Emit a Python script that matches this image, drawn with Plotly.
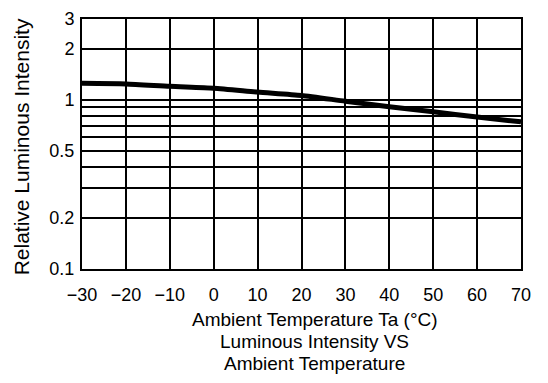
import plotly.graph_objects as go

# Data
temperature = [-30, -20, -10, 0, 10, 20, 30, 40, 50, 60, 70]
relative_intensity = [1.25, 1.24, 1.20, 1.17, 1.11, 1.06, 0.98, 0.91, 0.85, 0.79, 0.74]

x_ticks = [-30, -20, -10, 0, 10, 20, 30, 40, 50, 60, 70]
y_grid_values = [0.1, 0.2, 0.3, 0.4, 0.5, 0.6, 0.7, 0.8, 0.9, 1, 2, 3]
y_tick_labels = ["0.1", "0.2", "", "", "0.5", "", "", "", "", "1", "2", "3"]
x_title_lines = ["Ambient Temperature Ta (°C)", "Luminous Intensity VS", "Ambient Temperature"]
y_title = "Relative Luminous Intensity"

FONT = "Liberation Sans, Arial, sans-serif"

fig = go.Figure()
fig.add_trace(go.Scatter(
    x=temperature, y=relative_intensity, mode="lines",
    line=dict(color="black", width=5, shape="spline", smoothing=0.6),
    showlegend=False, hoverinfo="skip",
))

fig.update_layout(
    width=548, height=383,
    margin=dict(l=82, r=27, t=19, b=114),
    paper_bgcolor="white", plot_bgcolor="white",
    font=dict(family=FONT, color="black"),
)

fig.update_xaxes(
    range=[-30, 70], tickvals=x_ticks,
    ticktext=[("\u2212" + str(-v)) if v < 0 else str(v) for v in x_ticks],
    showgrid=True, gridcolor="black", gridwidth=1.5,
    showline=True, linecolor="black", linewidth=2, mirror=True,
    ticks="", ticklabelstandoff=8, zeroline=False,
    tickfont=dict(size=18), automargin=False,
)

fig.update_yaxes(
    type="log", range=[-1, 0.4771],
    tickvals=y_grid_values, ticktext=y_tick_labels,
    showgrid=True, gridcolor="black", gridwidth=1.5,
    showline=True, linecolor="black", linewidth=2, mirror=True,
    ticks="", ticklabelstandoff=2, zeroline=False,
    tickfont=dict(size=18), automargin=False,
)

# x-axis title lines (tight line spacing as in the reference)
for i, line in enumerate(x_title_lines):
    fig.add_annotation(
        text=line, xref="paper", yref="paper",
        x=0.53, y=-0.2 - i * 0.089, xanchor="center", yanchor="middle",
        showarrow=False, font=dict(size=19, family=FONT),
    )

fig.add_annotation(
    text=y_title, xref="paper", yref="paper", textangle=-90,
    x=-0.137, y=0.49, xanchor="center", yanchor="middle",
    showarrow=False, font=dict(size=21, family=FONT),
)

fig.write_html("out.html", config={"displayModeBar": False},
               post_script="document.body.style.margin='0';")
